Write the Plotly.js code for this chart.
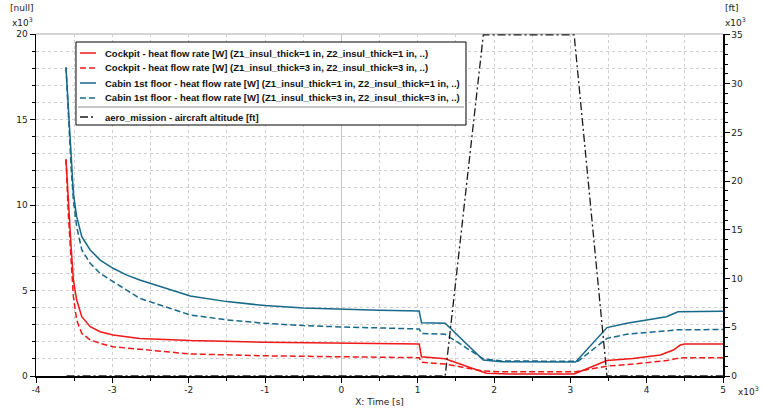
<!DOCTYPE html>
<html>
<head>
<meta charset="utf-8">
<script src="https://cdn.plot.ly/plotly-3.0.1.min.js"></script>
<style>
  html, body { margin: 0; padding: 0; background: #fff; }
  #chart { width: 763px; height: 410px; }
</style>
</head>
<body>
<div id="chart"></div>
<script>
// time [s] and heat flow [W]
var cockpit1_t = [-3607, -3577, -3540, -3510, -3467, -3400, -3290, -3160, -2990, -2640, -1980, -1000, 0, 1020, 1050, 1360, 1900, 2200, 3050, 3480, 3820, 4180, 4350, 4440, 4500, 5000];
var cockpit1_q = [12670, 10090, 7560, 5610, 4440, 3470, 2880, 2590, 2400, 2200, 2070, 1980, 1920, 1870, 1130, 1010, 160, 120, 120, 900, 1030, 1230, 1520, 1810, 1870, 1870];

var cockpit3_t = [-3607, -3577, -3540, -3510, -3467, -3400, -3290, -3160, -2990, -2640, -1980, -1000, 0, 1020, 1050, 1360, 1860, 2100, 3070, 3480, 3820, 4260, 4400, 4500, 5000];
var cockpit3_q = [12670, 9500, 6780, 4640, 3270, 2490, 2110, 1910, 1710, 1560, 1290, 1180, 1120, 1070, 800, 700, 290, 250, 250, 580, 700, 900, 1030, 1070, 1070];

var cabin1_t = [-3607, -3577, -3540, -3510, -3467, -3400, -3290, -3160, -2990, -2810, -2640, -1980, -1500, -1000, -500, 0, 500, 1020, 1050, 1360, 1860, 2100, 3070, 3480, 3740, 4000, 4260, 4410, 5000];
var cabin1_q = [18050, 15560, 12630, 10680, 9320, 8150, 7370, 6780, 6300, 5900, 5610, 4680, 4350, 4120, 3980, 3900, 3840, 3800, 3120, 3080, 940, 840, 820, 2830, 3080, 3270, 3470, 3760, 3780];

var cabin3_t = [-3607, -3577, -3540, -3510, -3467, -3400, -3290, -3160, -2990, -2810, -2640, -1980, -1500, -1000, -500, 0, 500, 1020, 1050, 1360, 1860, 2100, 3100, 3480, 3740, 4000, 4400, 5000];
var cabin3_q = [18050, 15300, 12200, 10290, 8730, 7370, 6590, 6000, 5520, 5030, 4540, 3570, 3280, 3080, 2950, 2870, 2800, 2750, 2490, 2440, 1000, 880, 860, 2200, 2440, 2550, 2700, 2720];

// altitude [ft]
var alt_t = [-3600, 1360, 1860, 3050, 3480, 5000];
var alt_h = [0, 0, 35000, 35000, 0, 0];

var xTicks = [-4000, -3000, -2000, -1000, 0, 1000, 2000, 3000, 4000, 5000];
var xLabels = ['-4', '-3', '-2', '-1', '0', '1', '2', '3', '4', '5'];
var yTicks = [0, 5000, 10000, 15000, 20000];
var yLabels = ['0', '5', '10', '15', '20'];
var y2Ticks = [0, 5000, 10000, 15000, 20000, 25000, 30000, 35000];
var y2Labels = ['0', '5', '10', '15', '20', '25', '30', '35'];

var names = [
  'Cockpit - heat flow rate [W] (Z1_insul_thick=1 in, Z2_insul_thick=1 in, ..)',
  'Cockpit - heat flow rate [W] (Z1_insul_thick=3 in, Z2_insul_thick=3 in, ..)',
  'Cabin 1st floor - heat flow rate [W] (Z1_insul_thick=1 in, Z2_insul_thick=1 in, ..)',
  'Cabin 1st floor - heat flow rate [W] (Z1_insul_thick=3 in, Z2_insul_thick=3 in, ..)',
  'aero_mission - aircraft altitude [ft]'
];

var red = '#f01818';
var teal = '#17698b';
var dashed = '6px,3px';
var dashdot = '8px,3px,2px,3px';
var lineStyles = [
  {color: red, width: 1.5},
  {color: red, width: 1.5, dash: dashed},
  {color: teal, width: 1.5},
  {color: teal, width: 1.5, dash: dashed},
  {color: '#1a1a1a', width: 1.3, dash: dashdot}
];
var txt = {family: 'DejaVu Sans', size: 9, color: '#222'};

var traces = [
  {x: cockpit1_t, y: cockpit1_q, name: names[0], mode: 'lines', line: lineStyles[0]},
  {x: cockpit3_t, y: cockpit3_q, name: names[1], mode: 'lines', line: lineStyles[1]},
  {x: cabin1_t, y: cabin1_q, name: names[2], mode: 'lines', line: lineStyles[2]},
  {x: cabin3_t, y: cabin3_q, name: names[3], mode: 'lines', line: lineStyles[3]},
  {x: alt_t, y: alt_h, name: names[4], yaxis: 'y2', mode: 'lines', line: lineStyles[4]}
];

// legend box drawn by hand (Plotly's own rows are too tall for this one)
var legRows = [0.9444, 0.9006, 0.8567, 0.8129, 0.7573];
var shapes = [
  {type: 'line', xref: 'paper', yref: 'paper', x0: 0, x1: 1, y0: 1, y1: 1, layer: 'below',
   line: {color: '#d4d4d4', width: 2}},
  {type: 'rect', xref: 'paper', yref: 'paper', x0: 0.0582, x1: 0.6259, y0: 0.7339, y1: 0.9766,
   fillcolor: '#fff', line: {color: '#000', width: 1}},
  {type: 'line', xref: 'paper', yref: 'paper', x0: 0.0611, x1: 0.6230, y0: 0.7865, y1: 0.7865,
   line: {color: '#c8c8c8', width: 2}}
];
var annotations = [];
names.forEach(function (n, i) {
  shapes.push({type: 'line', xref: 'paper', yref: 'paper', x0: 0.0640, x1: 0.0873,
               y0: legRows[i], y1: legRows[i], line: lineStyles[i]});
  annotations.push({xref: 'paper', yref: 'paper', x: 0.0975, y: legRows[i], xanchor: 'left', yanchor: 'middle',
                    text: n, showarrow: false,
                    font: {family: 'Liberation Sans', size: 9.5, color: '#111', weight: 'bold'}});
});

annotations.push(
  {xref: 'paper', yref: 'paper', x: 0, y: 1, xshift: -1, yshift: 26, xanchor: 'right', yanchor: 'middle',
   text: '[null]', showarrow: false, font: txt},
  {xref: 'paper', yref: 'paper', x: 0, y: 1, xshift: -1, yshift: 12, xanchor: 'right', yanchor: 'middle',
   text: 'x10<sup>3</sup>', showarrow: false, font: txt},
  {xref: 'paper', yref: 'paper', x: 1, y: 1, xshift: 0, yshift: 26, xanchor: 'left', yanchor: 'middle',
   text: '[ft]', showarrow: false, font: txt},
  {xref: 'paper', yref: 'paper', x: 1, y: 1, xshift: 0, yshift: 12, xanchor: 'left', yanchor: 'middle',
   text: 'x10<sup>3</sup>', showarrow: false, font: txt},
  {xref: 'paper', yref: 'paper', x: 1, y: 0, xshift: 13, yshift: -15, xanchor: 'left', yanchor: 'middle',
   text: 'x10<sup>3</sup>', showarrow: false, font: txt}
);

var grid = {color: '#cfcfcf', dash: 'dot'};

var layout = {
  width: 763, height: 410,
  margin: {l: 36, r: 40, t: 34, b: 34},
  paper_bgcolor: '#fff', plot_bgcolor: '#fff',
  showlegend: false,
  xaxis: {
    range: [-4000, 5000], tickmode: 'array', tickvals: xTicks, ticktext: xLabels,
    ticks: 'outside', ticklen: 5, tickcolor: '#000', tickfont: txt,
    showgrid: true, gridcolor: grid.color, griddash: grid.dash,
    zeroline: true, zerolinecolor: '#c4c4c4', zerolinewidth: 1,
    showline: true, linecolor: '#000', linewidth: 1.5,
    minor: {tickmode: 'linear', tick0: 0, dtick: 500, ticks: 'outside', ticklen: 3, tickcolor: '#000',
            showgrid: true, gridcolor: grid.color, griddash: grid.dash},
    title: {text: 'X: Time [s]', font: txt, standoff: 4}
  },
  yaxis: {
    range: [0, 20000], tickmode: 'array', tickvals: yTicks, ticktext: yLabels,
    ticks: 'outside', ticklen: 5, tickcolor: '#000', tickfont: txt,
    showgrid: true, gridcolor: grid.color, griddash: grid.dash, zeroline: false,
    showline: true, linecolor: '#000', linewidth: 1.5,
    minor: {tickmode: 'linear', tick0: 0, dtick: 1000, ticks: 'outside', ticklen: 3, tickcolor: '#000',
            showgrid: true, gridcolor: grid.color, griddash: grid.dash}
  },
  yaxis2: {
    overlaying: 'y', side: 'right',
    range: [0, 35100], tickmode: 'array', tickvals: y2Ticks, ticktext: y2Labels,
    ticks: 'outside', ticklen: 5, tickcolor: '#000', tickfont: txt,
    showgrid: false, zeroline: false,
    showline: true, linecolor: '#000', linewidth: 1.5,
    minor: {tickmode: 'linear', tick0: 0, dtick: 1000, ticks: 'outside', ticklen: 3, tickcolor: '#000'}
  },
  shapes: shapes,
  annotations: annotations
};

Plotly.newPlot('chart', traces, layout, {displayModeBar: false, staticPlot: true});
</script>
</body>
</html>
